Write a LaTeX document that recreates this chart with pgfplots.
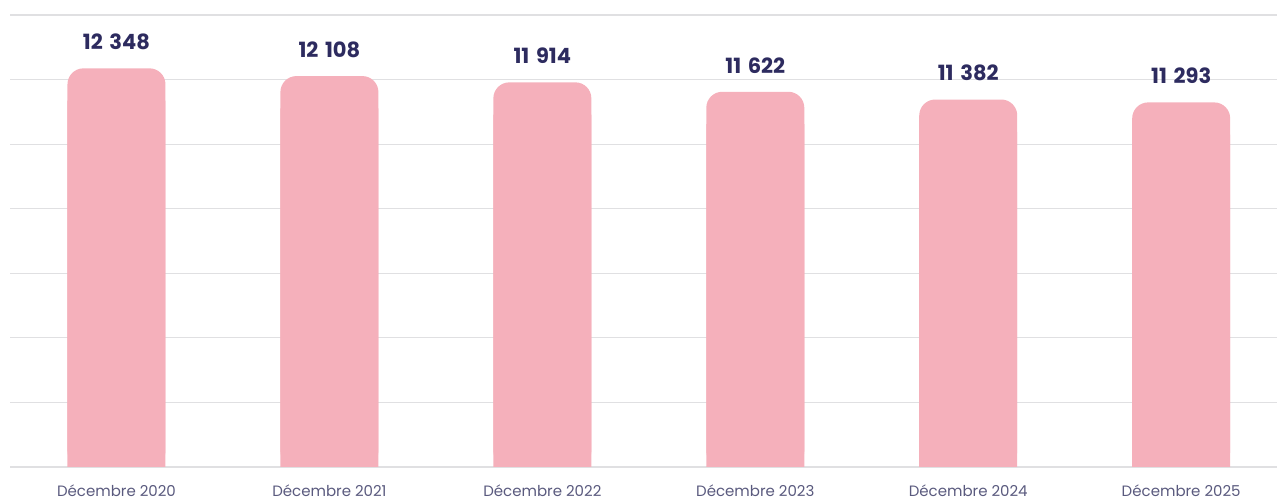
\documentclass[border=0pt]{standalone}
\usepackage{pgfplots}
\pgfplotsset{compat=1.18}
\usepackage{pgfplotstable}
\usepackage{fontspec}
\setmainfont{Poppins}
\definecolor{barpink}{HTML}{F5B0BB}
\definecolor{valnavy}{HTML}{2D2B5F}
\definecolor{catgray}{HTML}{5A5A7E}
\definecolor{gridgray}{HTML}{E0E0E2}
\pgfplotstableread{
x y
0 12348
1 12108
2 11914
3 11622
4 11382
5 11293
}\datatable
\begin{document}
\begin{tikzpicture}
\begin{axis}[
  scale only axis,
  width=633.5pt, height=226pt,
  xmin=-0.5, xmax=5.45,
  ymin=0, ymax=14000,
  ytick={0,2000,...,14000},
  yticklabels={},
  scaled y ticks=false,
  ymajorgrids,
  grid style={gridgray, line width=0.6pt},
  axis line style={draw=none},
  major tick length=0pt,
  xtick={0,1,2,3,4,5},
  xticklabels={Décembre 2020,Décembre 2021,Décembre 2022,Décembre 2023,Décembre 2024,Décembre 2025},
  xticklabel style={font=\fontsize{7.5}{9}\selectfont, text=catgray, anchor=north, inner sep=0pt, yshift=-8.5pt},
  clip=false,
  ybar, bar width=49pt, bar shift=0pt,
]
\addplot[fill=barpink, draw=none, rounded corners=8pt,
  nodes near coords,
  every node near coord/.append style={font=\fontsize{10.5}{12}\selectfont\bfseries, text=valnavy, anchor=south, inner sep=0pt, yshift=9pt,
    /pgf/number format/assume math mode=true, /pgf/number format/1000 sep={\hspace{0.32em}}, /pgf/number format/fixed, /pgf/number format/precision=0}
] table[x=x, y=y] {\datatable};
\addplot[fill=barpink, draw=none] table[x=x, y expr=\thisrow{y}-1000] {\datatable};
\coordinate (tl) at (rel axis cs:0,1);
\coordinate (br) at (rel axis cs:1,0);
\end{axis}
\pgfresetboundingbox
\path[use as bounding box] ([xshift=-5pt, yshift=7.5pt]tl) rectangle ([yshift=-18pt]br);
\end{tikzpicture}
\end{document}
